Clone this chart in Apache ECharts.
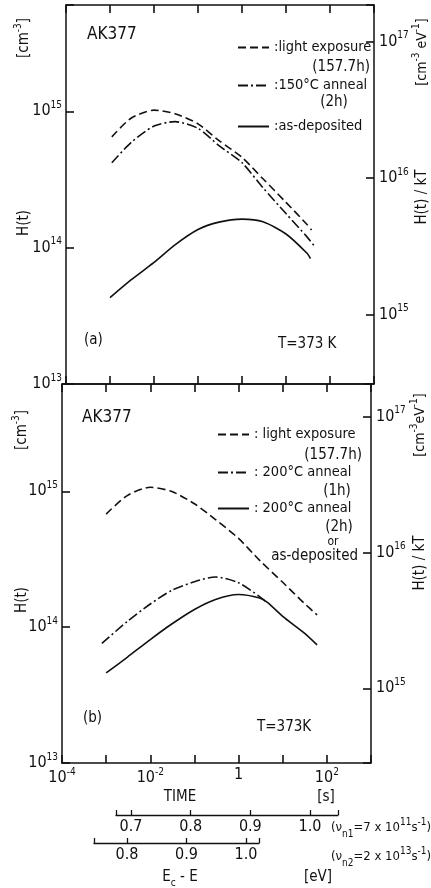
<!DOCTYPE html>
<html>
<head>
<meta charset="utf-8">
<title>H(t) AK377</title>
<script src="https://cdn.jsdelivr.net/npm/echarts@6/dist/echarts.min.js"></script>
<style>
  html, body { margin: 0; padding: 0; background: #fff; }
  #chart { width: 431px; height: 888px; }
</style>
</head>
<body>
<div id="chart"></div>
<script>
// ---- data (time in s, H in cm^-3) ----
// panel (a)
var tLightA = [0.0011, 0.003, 0.01, 0.03, 0.1, 0.3, 1, 3, 10, 30, 38];
var hLightA = [6.5e14, 8.9e14, 1.02e15, 9.6e14, 8.1e14, 6.1e14, 4.6e14, 3.2e14, 2.15e14, 1.48e14, 1.35e14];
var tAnnealA = [0.0011, 0.003, 0.01, 0.03, 0.1, 0.3, 1, 3, 10, 30, 45];
var hAnnealA = [4.2e14, 5.9e14, 7.8e14, 8.4e14, 7.5e14, 5.6e14, 4.2e14, 2.75e14, 1.78e14, 1.2e14, 1.02e14];
var tDepA = [0.001, 0.003, 0.01, 0.03, 0.1, 0.3, 1, 3, 10, 30, 36];
var hDepA = [4.3e13, 5.8e13, 7.8e13, 1.05e14, 1.36e14, 1.54e14, 1.62e14, 1.55e14, 1.26e14, 9.1e13, 8.3e13];
// panel (b)
var tLightB = [0.001, 0.003, 0.01, 0.03, 0.1, 0.3, 1, 3, 10, 30, 60];
var hLightB = [6.8e14, 9.3e14, 1.07e15, 1.0e15, 8.1e14, 6.2e14, 4.5e14, 3.1e14, 2.14e14, 1.51e14, 1.23e14];
var tAnneal1B = [0.0008, 0.003, 0.01, 0.03, 0.1, 0.3, 1, 3, 4.5];
var hAnneal1B = [7.6e13, 1.1e14, 1.48e14, 1.86e14, 2.16e14, 2.34e14, 2.12e14, 1.68e14, 1.51e14];
var tAnneal2B = [0.001, 0.003, 0.01, 0.03, 0.1, 0.3, 1, 3, 4.5, 10, 30, 60];
var hAnneal2B = [4.6e13, 6.0e13, 8.1e13, 1.05e14, 1.35e14, 1.6e14, 1.74e14, 1.64e14, 1.52e14, 1.2e14, 9.1e13, 7.4e13];

// tick labels (decade exponents) and energy scales
var timeLabels = [-4, -2, 0, 2];
var hLabels = [13, 14, 15];
var hkLabels = [15, 16, 17];
var e1Ticks = [0.7, 0.8, 0.9, 1.0];
var e2Ticks = [0.8, 0.9, 1.0];

var FONT = "'DejaVu Sans Condensed', 'Liberation Sans Narrow', sans-serif";
var INK = '#111';

var chart = echarts.init(document.getElementById('chart'));

// the axes are decade (log10) axes
function pairs(t, h) {
  return t.map(function (v, i) { return [Math.log10(v), Math.log10(h[i])]; });
}
function decadeLabel(e) {
  e = Math.round(e);
  if (e === 0) return '1';
  return '10{sup|' + e + '}';
}
var rich = {
  sup: { fontSize: 10, fontFamily: FONT, color: INK, fill: INK, verticalAlign: 'top', lineHeight: 22 },
  sub: { fontSize: 10, fontFamily: FONT, color: INK, fill: INK, verticalAlign: 'bottom', lineHeight: 22 }
};

function timeAxis(grid, pos, withLabels) {
  return {
    type: 'value', gridIndex: grid, position: pos, min: -4, max: 3, interval: 1, z: 10,
    axisLine: { onZero: false, lineStyle: { color: INK, width: 1.5 } },
    axisTick: { show: true, inside: true, length: 8, lineStyle: { color: INK, width: 1.6 } },
    axisLabel: {
      show: withLabels, customValues: timeLabels, formatter: decadeLabel, margin: 4,
      fontFamily: FONT, fontSize: 16, color: INK, rich: rich
    },
    splitLine: { show: false }
  };
}
function decadeY(grid, pos, lo, hi, labels) {
  return {
    type: 'value', gridIndex: grid, position: pos, min: lo, max: hi, splitNumber: 3, z: 10,
    axisLine: { onZero: false, lineStyle: { color: INK, width: 1.5 } },
    axisTick: { show: true, inside: true, length: 8, lineStyle: { color: INK, width: 1.6 } },
    axisLabel: {
      customValues: labels, formatter: decadeLabel, margin: pos === 'left' ? 4 : 5,
      fontFamily: FONT, fontSize: 16, color: INK, rich: rich
    },
    splitLine: { show: false }
  };
}
function energyAxis(grid, lo, hi, ticks) {
  return {
    type: 'value', gridIndex: grid, position: 'bottom', min: lo, max: hi, splitNumber: 3,
    axisLine: { onZero: false, lineStyle: { color: INK, width: 1.3 } },
    axisTick: { show: true, inside: true, length: 5, lineStyle: { color: INK, width: 1.3 } },
    axisLabel: {
      customValues: ticks, margin: 4, fontFamily: FONT, fontSize: 16, color: INK,
      formatter: function (v) { return v.toFixed(1); }
    },
    splitLine: { show: false }
  };
}
function curve(name, xi, yi, t, h, dash) {
  return {
    name: name, type: 'line', xAxisIndex: xi, yAxisIndex: yi,
    data: pairs(t, h), smooth: 0.25, symbol: 'none', showSymbol: false,
    lineStyle: { color: INK, width: 1.6, type: dash },
    itemStyle: { color: INK }
  };
}
function legendItem(name, left, top, text, w) {
  return {
    data: [name], left: left, top: top, padding: 0, itemWidth: w, itemHeight: 14,
    selectedMode: false, formatter: text,
    itemStyle: { opacity: 0 },
    textStyle: { fontFamily: FONT, fontSize: 14.5, color: INK }
  };
}
function txt(x, y, text, o) {
  o = o || {};
  return {
    type: 'text', x: x, y: y, rotation: o.rot || 0,
    style: {
      text: text, fontFamily: FONT, fontSize: o.size || 15, fill: INK,
      align: o.align || 'center', verticalAlign: 'middle', rich: rich
    }
  };
}

var DASH = [8, 4];
var DASHDOT = [10, 3, 2, 3];
var UP = Math.PI / 2;

var option = {
  animation: false,
  backgroundColor: '#fff',
  grid: [
    { left: 66, top: 5, width: 308, height: 379 },
    { left: 62, top: 384, width: 309, height: 379 },
    { left: 116, top: 814, width: 222, height: 1 },
    { left: 94, top: 842, width: 165, height: 1 }
  ],
  xAxis: [
    timeAxis(0, 'bottom', false),
    timeAxis(0, 'top', false),
    timeAxis(1, 'top', false),
    timeAxis(1, 'bottom', true),
    energyAxis(2, 0.6749, 1.0469, e1Ticks),
    energyAxis(3, 0.7445, 1.0218, e2Ticks)
  ],
  yAxis: [
    decadeY(0, 'left', 13, 15.78, hLabels),
    decadeY(0, 'right', 14.49, 17.27, hkLabels),
    decadeY(1, 'left', 13, 15.79, hLabels),
    decadeY(1, 'right', 14.45, 17.24, hkLabels),
    { type: 'value', gridIndex: 2, show: false, min: 0, max: 1 },
    { type: 'value', gridIndex: 3, show: false, min: 0, max: 1 }
  ],
  legend: [
    legendItem('lightA', 237, 40, ':light exposure', 31),
    legendItem('annealA', 237, 78, ':150°C anneal', 31),
    legendItem('depA', 237, 119, ':as-deposited', 31),
    legendItem('lightB', 217, 427, ': light exposure', 31),
    legendItem('anneal1B', 217, 465, ': 200°C anneal', 31),
    legendItem('anneal2B', 217, 501, ': 200°C anneal', 31)
  ],
  graphic: [
    // panel (a)
    txt(87, 35, 'AK377', { align: 'left', size: 17 }),
    txt(370, 67, '(157.7h)', { align: 'right' }),
    txt(334, 102, '(2h)'),
    txt(84, 340, '(a)', { align: 'left' }),
    txt(278, 344, 'T=373 K', { align: 'left' }),
    txt(24, 38, '[cm{sup|-3}]', { rot: UP }),
    txt(24, 223, 'H(t)', { rot: UP }),
    txt(422, 52, '[cm{sup|-3} eV{sup|-1}]', { rot: UP, size: 14 }),
    txt(422, 197, 'H(t) / kT', { rot: UP }),
    // panel (b)
    txt(82, 418, 'AK377', { align: 'left', size: 17 }),
    txt(362, 455, '(157.7h)', { align: 'right' }),
    txt(337, 491, '(1h)'),
    txt(339, 527, '(2h)'),
    txt(333, 542, 'or', { size: 12 }),
    txt(358, 556, 'as-deposited', { align: 'right' }),
    txt(83, 718, '(b)', { align: 'left' }),
    txt(257, 727, 'T=373K', { align: 'left' }),
    txt(22, 430, '[cm{sup|-3}]', { rot: UP }),
    txt(22, 600, 'H(t)', { rot: UP }),
    txt(420, 425, '[cm{sup|-3}eV{sup|-1}]', { rot: UP, size: 14 }),
    txt(420, 563, 'H(t) / kT', { rot: UP }),
    // time and energy scales
    txt(180, 797, 'TIME'),
    txt(326, 797, '[s]'),
    txt(331, 828, '(\u03bd{sub|n1}=7 x 10{sup|11}s{sup|-1})', { align: 'left', size: 13 }),
    txt(331, 857, '(\u03bd{sub|n2}=2 x 10{sup|13}s{sup|-1})', { align: 'left', size: 13 }),
    txt(180, 877, 'E{sub|c} - E'),
    txt(318, 877, '[eV]')
  ],
  series: [
    curve('lightA', 0, 0, tLightA, hLightA, DASH),
    curve('annealA', 0, 0, tAnnealA, hAnnealA, DASHDOT),
    curve('depA', 0, 0, tDepA, hDepA, 'solid'),
    curve('lightB', 3, 2, tLightB, hLightB, DASH),
    curve('anneal1B', 3, 2, tAnneal1B, hAnneal1B, DASHDOT),
    curve('anneal2B', 3, 2, tAnneal2B, hAnneal2B, 'solid')
  ]
};
chart.setOption(option);
</script>
</body>
</html>
